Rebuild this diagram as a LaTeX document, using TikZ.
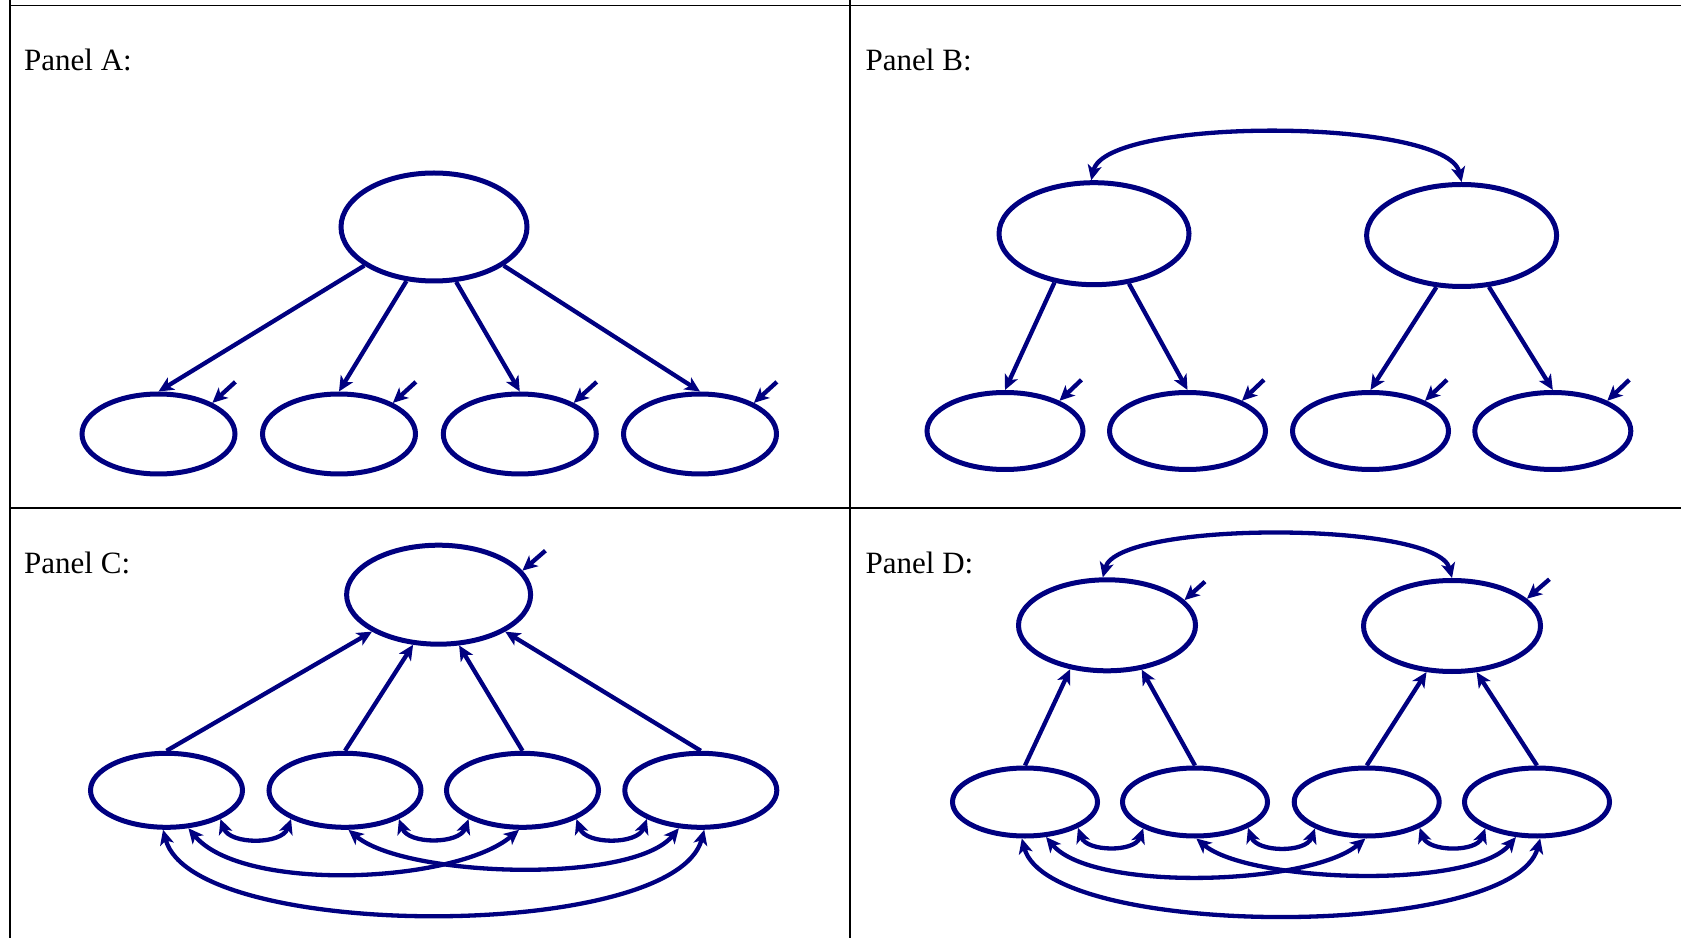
\documentclass[tikz,border=0pt]{standalone}
\usepackage{fontspec}
\setmainfont{Liberation Serif}
\usetikzlibrary{shapes.geometric,arrows.meta}
\definecolor{navy}{RGB}{0,0,128}
\begin{document}
\begin{tikzpicture}[x=1pt,y=1pt,
  >={Stealth[length=15pt,width=14pt,inset=4pt]},
  blob/.style={ellipse, draw=navy, line width=5pt, inner sep=0pt},
  link/.style={draw=navy, line width=4.3pt, ->},
  twoway/.style={draw=navy, line width=4.3pt, <->},
  paneltitle/.style={anchor=base west, inner sep=0pt, font=\fontsize{31pt}{31pt}\selectfont},
  rule/.style={draw=black, line width=1.8pt}]
\useasboundingbox (0,0) rectangle (1681,938);

% table rules
\draw[rule] (10,938) -- (10,0);
\draw[rule] (850,938) -- (850,0);
\draw[rule] (10,932.5) -- (1681,932.5);
\draw[rule] (10,430) -- (1681,430);

% titles
\node[paneltitle] (ta) at (24,867.3) {Panel A:};
\node[paneltitle] (tb) at (865.5,867.3) {Panel B:};
\node[paneltitle] (tc) at (24,364) {Panel C:};
\node[paneltitle] (td) at (865.5,364) {Panel D:};

% ---------- Panel A ----------
\begin{scope}[every node/.append style={blob}]
\node[minimum width=186pt,minimum height=108pt] (a0) at (434,711) {};
\foreach \i/\x in {1/158.5,2/339,3/519.8,4/700}
  \node[minimum width=153pt,minimum height=80pt] (a\i) at (\x,504) {};
\end{scope}
\draw[link] (a0.209) -- (a1.north);
\draw[link] (a0.243) -- (a2.north);
\draw[link] (a0.292) -- (a3.north);
\draw[link] (a0.331) -- (a4.north);
\foreach \i in {1,...,4}{
  \coordinate (as\i) at ([shift={(23,21)}]a\i.30);
  \draw[link] (as\i) -- (a\i.30);
}

% ---------- Panel B ----------
\begin{scope}[every node/.append style={blob}]
\node[minimum width=190pt,minimum height=102pt] (bl) at (1094,704.3) {};
\node[minimum width=190pt,minimum height=102pt] (br) at (1461.6,702.5) {};
\foreach \i/\x in {1/1005,2/1187.5,3/1370.5,4/1552.8}
  \node[minimum width=156pt,minimum height=77pt] (b\i) at (\x,507) {};
\end{scope}
\draw[twoway] (bl.93) .. controls +(15,64) and +(-15,64) .. (br.north);
\draw[link] (bl.231) -- (b1.north);
\draw[link] (bl.305) -- (b2.north);
\draw[link] (br.244) -- (b3.north);
\draw[link] (br.298) -- (b4.north);
\foreach \i in {1,...,4}{
  \coordinate (bs\i) at ([shift={(22,21)}]b\i.29);
  \draw[link] (bs\i) -- (b\i.29);
}

% ---------- Panel C ----------
\begin{scope}[every node/.append style={blob}]
\node[minimum width=184pt,minimum height=99pt] (c0) at (438.6,343.3) {};
\foreach \i/\x in {1/166.5,2/345,3/522.5,4/700.8}
  \node[minimum width=152pt,minimum height=74pt] (c\i) at (\x,147.7) {};
\end{scope}
\draw[link] (c1.north) -- (c0.209);
\draw[link] (c2.north) -- (c0.243);
\draw[link] (c3.north) -- (c0.292);
\draw[link] (c4.north) -- (c0.331);
\coordinate (cs0) at ([shift={(23,20)}]c0.16);
\draw[link] (cs0) -- (c0.16);
\draw[twoway] (c1.332) to[out=-70,in=-110] (c2.208);
\draw[twoway] (c2.332) to[out=-70,in=-110] (c3.208);
\draw[twoway] (c3.332) to[out=-70,in=-110] (c4.208);
\draw[twoway] (c1.300) to[out=-50,in=-140,looseness=0.65] (c3.265);
\draw[twoway] (c2.275) to[out=-40,in=-130,looseness=0.57] (c4.240);
\draw[twoway] (c1.265) to[out=-75,in=-105,looseness=0.55] (c4.275);

% ---------- Panel D ----------
\begin{scope}[every node/.append style={blob}]
\node[minimum width=177pt,minimum height=91pt] (dl) at (1107,312.7) {};
\node[minimum width=177pt,minimum height=91pt] (dr) at (1452,312) {};
\foreach \i/\x in {1/1025,2/1195,3/1366.7,4/1537}
  \node[minimum width=145pt,minimum height=68pt] (d\i) at (\x,136) {};
\end{scope}
\draw[twoway] (dl.95) .. controls +(15,57) and +(-15,57) .. (dr.north);
\draw[link] (d1.north) -- (dl.230);
\draw[link] (d2.north) -- (dl.308);
\draw[link] (d3.north) -- (dr.241);
\draw[link] (d4.north) -- (dr.298);
\coordinate (dsl) at ([shift={(20.5,18.5)}]dl.18);
\draw[link] (dsl) -- (dl.18);
\coordinate (dsr) at ([shift={(22.5,19.5)}]dr.20);
\draw[link] (dsr) -- (dr.20);
\draw[twoway] (d1.334) to[out=-70,in=-110] (d2.207);
\draw[twoway] (d2.334) to[out=-70,in=-110] (d3.207);
\draw[twoway] (d3.334) to[out=-70,in=-110] (d4.207);
\draw[twoway] (d1.301) to[out=-50,in=-140,looseness=0.58] (d3.268);
\draw[twoway] (d2.272) to[out=-40,in=-130,looseness=0.55] (d4.239);
\draw[twoway] (d1.265) to[out=-75,in=-105,looseness=0.52] (d4.275);
\end{tikzpicture}
\end{document}
